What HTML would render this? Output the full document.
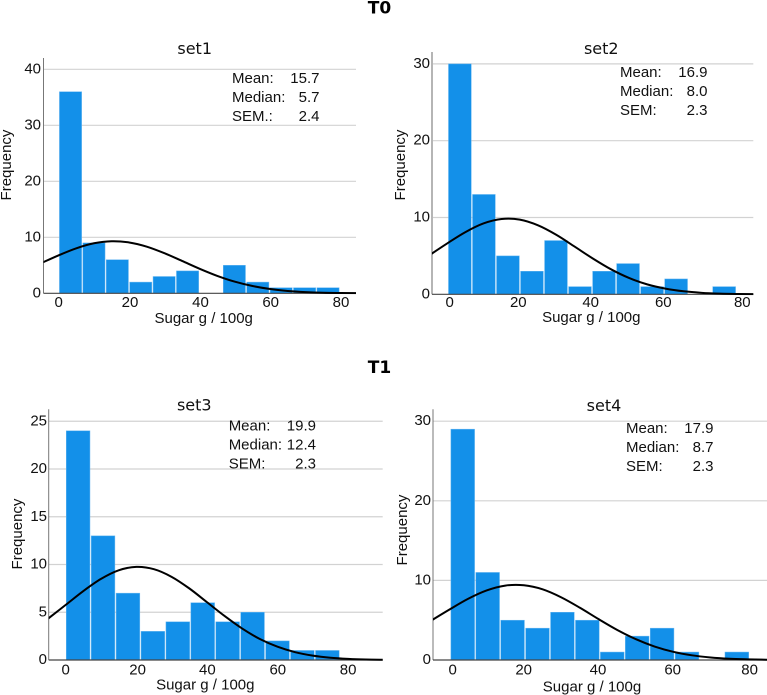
<!DOCTYPE html>
<html lang="en">
<head>
<meta charset="utf-8">
<title>Sugar histograms</title>
<style>
html,body{margin:0;padding:0;background:#fff;}
svg{display:block;}
text{font-family:"Liberation Sans",Arial,sans-serif;fill:#111;font-size:15px;}
.title{font-family:"DejaVu Sans",sans-serif;font-size:16px;text-anchor:middle;}
.group{font-family:"DejaVu Sans",sans-serif;font-weight:bold;font-size:17px;text-anchor:middle;fill:#000;}
</style>
</head>
<body>
<svg id="chart" width="767" height="695" viewBox="0 0 767 695" xmlns="http://www.w3.org/2000/svg">
  <text class="group" x="379.5" y="13.5">T0</text>
  <text class="group" x="379.5" y="373">T1</text>
</svg>
<script>
// Shared x positions (g / 100g) at which the fitted curves were read
const curveXValues = [-5,0,5,10,15,20,25,30,35,40,45,50,55,60,65,70,75,80,85,90];
const xTickValues = [0,20,40,60,80];

// set1
const set1Counts = [36,9,6,2,3,4,0,5,2,1,1,1];
const set1Curve = [5.38,6.79,8.04,8.93,9.3,9.08,8.33,7.16,5.78,4.38,3.11,2.07,1.3,0.76,0.42,0.22,0.1,0.05,0.02,0.01];
const set1YTicks = [0,10,20,30,40];
const set1Stats = [["Mean:","15.7"],["Median:","5.7"],["SEM.:","2.4"]];

// set2
const set2Counts = [30,13,5,3,7,1,3,4,1,2,0,1];
const set2Curve = [5.04,6.61,8.08,9.22,9.8,9.72,8.98,7.75,6.23,4.68,3.27,2.13,1.29,0.74,0.39,0.19,0.09,0.04,0.01,0];
const set2YTicks = [0,10,20,30];
const set2Stats = [["Mean:","16.9"],["Median:","8.0"],["SEM:","2.3"]];

// set3
const set3Counts = [24,13,7,3,4,6,4,5,2,1,1];
const set3Curve = [4.33,5.77,7.22,8.49,9.39,9.75,9.51,8.71,7.5,6.06,4.61,3.29,2.2,1.39,0.82,0.46,0.24,0.12,0.05,0.02];
const set3YTicks = [0,5,10,15,20,25];
const set3Stats = [["Mean:","19.9"],["Median:","12.4"],["SEM:","2.3"]];

// set4
const set4Counts = [29,11,5,4,6,5,1,3,4,1,0,1];
const set4Curve = [4.91,6.33,7.68,8.74,9.35,9.39,8.88,7.87,6.56,5.13,3.77,2.61,1.69,1.03,0.59,0.32,0.16,0.08,0.03,0.01];
const set4YTicks = [0,10,20,30];
const set4Stats = [["Mean:","17.9"],["Median:","8.7"],["SEM:","2.3"]];

const NS = 'http://www.w3.org/2000/svg';
const root = document.getElementById('chart');

function make(parent, tag, attrs, text) {
  const el = document.createElementNS(NS, tag);
  for (const k in attrs) el.setAttribute(k, attrs[k]);
  if (text !== undefined) el.textContent = text;
  parent.appendChild(el);
  return el;
}

function drawPanel(name, counts, curve, yTicks, stats, L) {
  const g = make(root, 'g', {});
  
  

  const sx = v => L.x0 + v * L.xs;
  const sy = v => L.y0 - v * L.ys;

  // clip
  const clipId = name + '-clip';
  const clip = make(g, 'clipPath', {id: clipId});
  make(clip, 'rect', {x: L.left, y: L.top, width: L.right - L.left, height: L.y0 - L.top + 1});

  // gridlines
  yTicks.forEach(t => {
    if (t === 0) return;
    const line = make(g, 'line', {x1: L.left, x2: L.right, y1: sy(t), y2: sy(t), stroke: '#d2d2d2', 'stroke-width': 1.2});
    
    
  });

  // bars
  counts.forEach((c, i) => {
    if (!c) return;
    const x1 = sx(L.binStart + i * L.binWidth);
    const x2 = sx(L.binStart + (i + 1) * L.binWidth);
    const bar = make(g, 'rect', {
      x: x1 + 0.2, y: sy(c), width: x2 - x1 - 1.2, height: L.y0 - sy(c),
      fill: '#1390e9', stroke: '#6cb9f1', 'stroke-width': 0.5
    });
    
    
  });

  // fitted curve (Catmull-Rom through the read points)
  const pts = curveXValues.map((x, i) => [sx(x), sy(curve[i])]);
  let d = 'M' + pts[0][0] + ' ' + pts[0][1];
  for (let i = 0; i < pts.length - 1; i++) {
    const p0 = pts[Math.max(i - 1, 0)], p1 = pts[i], p2 = pts[i + 1], p3 = pts[Math.min(i + 2, pts.length - 1)];
    const c1x = p1[0] + (p2[0] - p0[0]) / 6, c1y = p1[1] + (p2[1] - p0[1]) / 6;
    const c2x = p2[0] - (p3[0] - p1[0]) / 6, c2y = p2[1] - (p3[1] - p1[1]) / 6;
    d += 'C' + c1x + ' ' + c1y + ' ' + c2x + ' ' + c2y + ' ' + p2[0] + ' ' + p2[1];
  }

  // axes
  const yAxis = make(g, 'line', {x1: L.left, x2: L.left, y1: L.top, y2: L.y0, stroke: L.axisColor, 'stroke-width': L.axisWidth});
  
  
  const xAxis = make(g, 'line', {x1: L.left, x2: L.right, y1: L.y0, y2: L.y0, stroke: '#444', 'stroke-width': 1.2});
  
  

  const path = make(g, 'path', {d: d, fill: 'none', stroke: '#000', 'stroke-width': 2, 'clip-path': 'url(#' + clipId + ')'});
  
  

  // y tick labels
  yTicks.forEach(t => {
    const lab = make(g, 'text', {x: L.yLabelRight, y: sy(t) + 4, 'text-anchor': 'end'}, String(t));
    
    
  });

  // x tick labels
  xTickValues.forEach((t, i) => {
    const lab = make(g, 'text', {x: sx(t) + L.labelShift[i], y: L.xLabelBase, 'text-anchor': 'middle'}, String(t));
    
    
  });

  // titles
  const title = make(g, 'text', {class: 'title', x: L.titleX, y: L.titleY}, name);
  
  

  const xt = make(g, 'text', {x: L.xTitleX, y: L.xTitleY, 'text-anchor': 'middle'}, 'Sugar g / 100g');
  
  

  const yt = make(g, 'text', {'text-anchor': 'middle', transform: 'translate(' + L.yTitleX + ' ' + L.yTitleY + ') rotate(-90)'}, 'Frequency');
  
  

  // stats
  stats.forEach((row, i) => {
    const by = L.statY + i * 19;
    const a = make(g, 'text', {x: L.statX, y: by}, row[0]);
    
    
    const b = make(g, 'text', {x: L.statRight, y: by, 'text-anchor': 'end'}, row[1]);
    
    
  });
}

drawPanel('set1', set1Counts, set1Curve, set1YTicks, set1Stats, {
  x0: 58.7, xs: 3.525, y0: 293.3, ys: 5.6, left: 43.5, right: 356, top: 58,
  binStart: 0.15, binWidth: 6.64, axisColor: '#777', axisWidth: 1,
  labelShift: [0, 0.8, 0.8, 0.5, 0.3], yLabelRight: 41, xLabelBase: 307,
  titleX: 194.7, titleY: 54, xTitleX: 203.7, xTitleY: 323, yTitleX: 11, yTitleY: 165,
  statX: 232, statRight: 319.5, statY: 83
});
drawPanel('set2', set2Counts, set2Curve, set2YTicks, set2Stats, {
  x0: 447, xs: 3.64, y0: 294.3, ys: 7.68, left: 432, right: 753.3, top: 52,
  binStart: 0.35, binWidth: 6.6, axisColor: '#b5b5b5', axisWidth: 2,
  labelShift: [2.7, -1.5, -1.9, -2.1, 4.1], yLabelRight: 430, xLabelBase: 307,
  titleX: 601.3, titleY: 54, xTitleX: 591.3, xTitleY: 322, yTitleX: 405, yTitleY: 165,
  statX: 620, statRight: 707.5, statY: 77
});
drawPanel('set3', set3Counts, set3Curve, set3YTicks, set3Stats, {
  x0: 65.7, xs: 3.53, y0: 660, ys: 9.55, left: 48.7, right: 382.7, top: 409.3,
  binStart: 0.1, binWidth: 7.06, axisColor: '#777', axisWidth: 1,
  labelShift: [0, 1.3, 0.5, 0.3, 0], yLabelRight: 47, xLabelBase: 674.7,
  titleX: 194.3, titleY: 410.7, xTitleX: 205.3, xTitleY: 689.5, yTitleX: 22, yTitleY: 534,
  statX: 228.7, statRight: 316, statY: 430.5
});
drawPanel('set4', set4Counts, set4Curve, set4YTicks, set4Stats, {
  x0: 449.3, xs: 3.733, y0: 660, ys: 7.96, left: 433, right: 767, top: 409.3,
  binStart: 0.37, binWidth: 6.675, axisColor: '#777', axisWidth: 1,
  labelShift: [3.4, -0.3, -0.6, -0.6, 1.7], yLabelRight: 431, xLabelBase: 674.7,
  titleX: 604, titleY: 411, xTitleX: 592, xTitleY: 691.5, yTitleX: 407, yTitleY: 530,
  statX: 626, statRight: 713.5, statY: 433
});
</script>
</body>
</html>
